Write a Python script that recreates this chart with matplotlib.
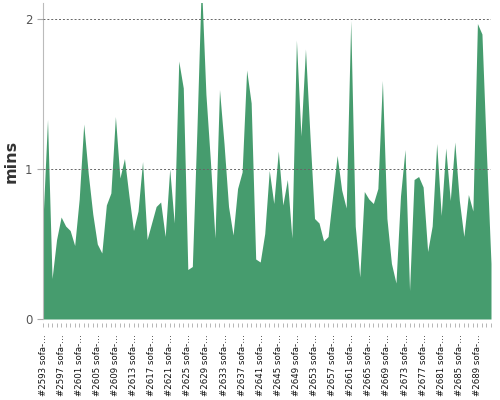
import numpy as np
from matplotlib import pyplot as plt

# run ids, one per point; only every 4th gets a label
first_run = 2593
n_runs = 100
label_step = 4

mins = [0.66, 1.33, 0.27, 0.53, 0.68, 0.62, 0.59, 0.49, 0.80, 1.30,
        0.97, 0.70, 0.50, 0.44, 0.76, 0.84, 1.35, 0.94, 1.07, 0.82,
        0.59, 0.72, 1.05, 0.53, 0.64, 0.75, 0.78, 0.55, 1.00, 0.64,
        1.72, 1.54, 0.33, 0.35, 1.25, 2.25, 1.50, 1.05, 0.54, 1.53,
        1.17, 0.75, 0.56, 0.87, 0.98, 1.66, 1.44, 0.40, 0.38, 0.57,
        0.99, 0.77, 1.12, 0.76, 0.93, 0.54, 1.86, 1.22, 1.80, 1.22,
        0.67, 0.64, 0.52, 0.55, 0.82, 1.09, 0.86, 0.74, 1.99, 0.62,
        0.28, 0.85, 0.80, 0.77, 0.87, 1.59, 0.67, 0.37, 0.24, 0.82,
        1.13, 0.19, 0.93, 0.95, 0.88, 0.45, 0.62, 1.17, 0.69, 1.14,
        0.79, 1.18, 0.79, 0.55, 0.83, 0.72, 1.97, 1.90, 1.10, 0.37]

runs = ['#%d sofa-\u2026' % (first_run + i) for i in range(n_runs)]
x = np.arange(n_runs)

fig = plt.figure(figsize=(5, 4), dpi=100)
ax = fig.add_axes([0.086, 0.2025, 0.896, 0.79])

# spine position first: it resets the ticks
for side in ['top', 'right']:
    ax.spines[side].set_visible(False)
ax.spines['bottom'].set_position(('outward', 3))
ax.spines['bottom'].set_visible(False)
ax.spines['left'].set_color('#bbbbbb')

ax.fill_between(x, mins, 0, color='#469c6e', linewidth=0)

ax.set_xlim(0, n_runs - 1)
ax.set_ylim(0, 2.107)
ax.set_yticks([0, 1, 2])
ax.set_yticklabels(['0', '1', '2'])
for y in [1, 2]:
    ax.axhline(y, color='#666666', linestyle=(0, (2, 2)), linewidth=0.7, zorder=3)

ax.set_xticks(x, minor=True)
ax.set_xticks(x[::label_step])
ax.set_xticklabels(runs[::label_step], rotation=90, fontsize=6.2, color='#111111')
ax.tick_params(axis='x', which='both', length=3, color='#aaaaaa', width=0.6, pad=5)
ax.tick_params(axis='y', length=4, color='#aaaaaa', labelsize=8.5, labelcolor='#555555')

ax.set_ylabel('mins', fontsize=11.5, color='#333333', labelpad=5, fontweight='bold')

fig.savefig('out.png')
